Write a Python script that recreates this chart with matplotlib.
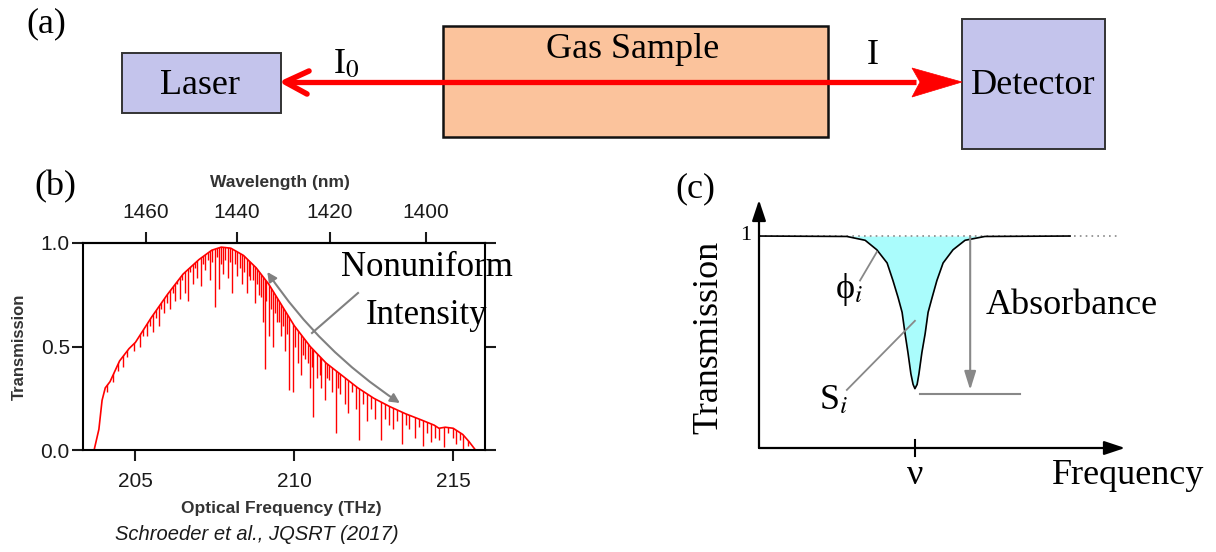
import numpy as np
import matplotlib
matplotlib.use("Agg")
import matplotlib.pyplot as plt
from matplotlib.patches import Rectangle, Polygon, FancyArrowPatch

W, H = 1216, 552
SERIF = ["Liberation Serif", "DejaVu Serif"]
SANS = ["Liberation Sans", "DejaVu Sans"]
plt.rcParams["font.family"] = SANS
plt.rcParams["mathtext.fontset"] = "stix"

# ---- panel (b): transmission spectrum ----
env_freq = [203.35, 203.7, 203.85, 203.95, 204.05, 204.2, 204.35, 204.5, 204.8, 205.0,
            205.5, 206.0, 206.5, 207.0, 207.4, 207.7, 208.0, 208.4, 208.8, 209.2,
            209.6, 210.0, 210.5, 211.0, 211.5, 212.0, 212.5, 213.0, 213.5, 214.0,
            214.4, 214.55, 214.75, 215.0, 215.3, 215.5, 215.7, 216.0]
env_trans = [0.0, 0.0, 0.10, 0.24, 0.30, 0.33, 0.38, 0.43, 0.49, 0.52,
             0.64, 0.75, 0.85, 0.92, 0.965, 0.98, 0.975, 0.94, 0.88, 0.80,
             0.70, 0.60, 0.50, 0.42, 0.36, 0.30, 0.25, 0.21, 0.175, 0.145,
             0.12, 0.105, 0.11, 0.105, 0.075, 0.04, 0.0, 0.0]

# strong absorption lines (centre, minimum transmission)
dip_freq = [204.6, 204.75, 204.95, 205.15, 205.35, 205.55, 205.75, 205.9, 206.1, 206.25,
            206.4, 206.55, 206.65, 206.8, 206.95, 207.05, 207.2, 207.35, 207.5, 207.62,
            207.75, 207.9, 208.05, 208.2, 208.35, 208.5, 208.62, 208.75, 208.88, 209.0,
            209.08, 209.2, 209.32, 209.45, 209.58, 209.7, 209.84, 209.95, 210.1, 210.22,
            210.35, 210.48, 210.6, 210.72, 210.85, 210.95, 211.08, 211.2, 211.32, 211.45,
            211.58, 211.7, 211.82, 211.95, 212.02, 212.15, 212.3, 212.42, 212.55, 212.72,
            212.85, 212.98, 213.1, 213.22, 213.38, 213.5, 213.62, 213.8, 213.92, 214.05,
            214.18, 214.3, 214.42, 214.55, 214.7, 214.85, 214.98, 215.1, 215.22, 215.32, 215.45]
dip_trans = [0.40, 0.45, 0.48, 0.50, 0.55, 0.57, 0.60, 0.66, 0.68, 0.72,
             0.73, 0.76, 0.72, 0.80, 0.83, 0.79, 0.87, 0.82, 0.69, 0.78,
             0.85, 0.83, 0.76, 0.84, 0.80, 0.76, 0.82, 0.71, 0.75, 0.62,
             0.39, 0.55, 0.50, 0.62, 0.55, 0.48, 0.29, 0.28, 0.42, 0.36,
             0.44, 0.30, 0.16, 0.35, 0.30, 0.24, 0.34, 0.28, 0.08, 0.27,
             0.22, 0.18, 0.28, 0.20, 0.05, 0.22, 0.14, 0.20, 0.15, 0.05,
             0.15, 0.12, 0.10, 0.14, 0.03, 0.12, 0.10, 0.06, 0.11, 0.02,
             0.08, 0.04, 0.06, 0.05, 0.015, 0.08, 0.06, 0.03, 0.05, 0.0, 0.02]

# weak lines that fill the band near the peak
weak_freq = [204.1, 204.3, 204.45, 205.25, 205.45, 205.65, 205.82, 206.0, 206.18, 206.32,
             206.48, 206.72, 206.88, 207.12, 207.28, 207.42, 207.56, 207.68, 207.82, 207.98,
             208.12, 208.28, 208.42, 208.56, 208.7, 208.82, 208.95, 209.12, 209.26, 209.38,
             209.52, 209.64, 209.77, 210.03, 210.28, 210.42, 210.55, 210.8, 211.02, 211.38]
weak_trans = [0.28, 0.33, 0.38, 0.55, 0.60, 0.64, 0.68, 0.71, 0.76, 0.80,
              0.82, 0.86, 0.88, 0.90, 0.92, 0.91, 0.93, 0.90, 0.92, 0.91,
              0.90, 0.88, 0.86, 0.84, 0.82, 0.80, 0.74, 0.72, 0.68, 0.66,
              0.62, 0.60, 0.56, 0.50, 0.46, 0.42, 0.40, 0.36, 0.35, 0.30]

freq_ticks = [205, 210, 215]
wl_ticks = [1460, 1440, 1420, 1400]
trans_ticks = [0.0, 0.5, 1.0]

# ---- panel (c): schematic line profile ----
lor_x = [0.0, 2.40, 2.90, 3.22, 3.50, 3.66, 3.80, 3.91, 3.99, 4.07, 4.15, 4.21, 4.26,
         4.32, 4.37, 4.45, 4.54, 4.62, 4.73, 4.86, 5.03, 5.30, 5.63, 6.17, 8.50]
lor_t = [1.0, 0.998, 0.98, 0.935, 0.873, 0.79, 0.71, 0.64, 0.54, 0.45, 0.35, 0.30, 0.28,
         0.30, 0.35, 0.45, 0.54, 0.64, 0.71, 0.79, 0.873, 0.935, 0.98, 0.998, 1.0]
line_center = 4.26
absorb_x = 5.77
peak_floor = 0.255

C_LIGHT = 299792.458


def frac(x0, y0, x1, y1):
    return [x0 / W, 1 - y1 / H, (x1 - x0) / W, (y1 - y0) / H]


fig = plt.figure(figsize=(W / 100, H / 100), dpi=100)

ov = fig.add_axes([0, 0, 1, 1], zorder=5)
ov.set_xlim(0, W)
ov.set_ylim(H, 0)
ov.axis("off")
ov.patch.set_alpha(0)


def serif(x, y, s, size=26, **kw):
    # matplotlib centres on the full line box, so nudge down to the glyph centre
    ov.text(x, y + 3, s, family=SERIF, fontsize=size, ha="center", va="center", **kw)


# ================= (a) =================
serif(46, 21, "(a)")
ov.add_patch(Rectangle((122, 53), 159, 60, fc="#c4c4ec", ec="#333333", lw=1.4))
ov.add_patch(Rectangle((443, 26), 385, 111, fc="#fbc39c", ec="#111111", lw=1.8))
ov.add_patch(Rectangle((962, 19), 143, 130, fc="#c4c4ec", ec="#333333", lw=1.4))
ov.plot([285, 916], [82, 82], color="red", lw=3.8, solid_capstyle="butt")
ov.plot([309, 285, 307], [71, 82, 94], color="red", lw=4.0,
        solid_capstyle="round", solid_joinstyle="round")
ov.add_patch(Polygon([(962, 82), (912, 68), (920, 82), (912, 97)], closed=True,
                     fc="red", ec="red", lw=0.5))
serif(200, 83, "Laser")
serif(633, 47, "Gas Sample")
serif(1033, 83, "Detector")
serif(346, 62, "I$_0$")
serif(873, 53, "I")

# ================= (b) =================
serif(55, 184, "(b)")
axb = fig.add_axes(frac(83, 243, 485, 450))
axb.set_xlim(203.35, 216.0)
axb.set_ylim(0, 1)
axb.plot(env_freq, env_trans, color="red", lw=1.2)
clip = Polygon(np.column_stack([env_freq, env_trans]), closed=True,
               transform=axb.transData)
for fr, tr in ((dip_freq, dip_trans), (weak_freq, weak_trans)):
    lines = axb.vlines(fr, tr, 1.0, colors="red", lw=1.0)
    lines.set_clip_path(clip)

axb.set_xticks(freq_ticks)
axb.set_yticks(trans_ticks)
axb.set_yticklabels(["%.1f" % t for t in trans_ticks])
axb.tick_params(axis="x", direction="out", length=8, width=1.5, labelsize=15,
                pad=8, colors="#1a1a1a")
axb.tick_params(axis="y", direction="out", length=8, width=1.5, labelsize=15,
                pad=1.5, right=True, colors="#1a1a1a")
for sp in axb.spines.values():
    sp.set_linewidth(1.5)

sec = axb.secondary_xaxis("top", functions=(lambda f: C_LIGHT / f,
                                            lambda w: C_LIGHT / w))
sec.set_ticks(wl_ticks)
sec.tick_params(direction="out", length=8, width=1.5, labelsize=15, pad=7,
                colors="#1a1a1a")
sec.spines["top"].set_linewidth(1.5)

ov.text(280, 183, "Wavelength (nm)", fontsize=12.5, fontweight="bold",
        color="#333333", ha="center", va="center")
ov.text(281, 508, "Optical Frequency (THz)", fontsize=12.5, fontweight="bold",
        color="#333333", ha="center", va="center")
ov.text(19, 347, "Transmission", fontsize=12, fontweight="bold", color="#333333",
        ha="center", va="center", rotation=90)
ov.text(257, 535, "Schroeder et al., JQSRT (2017)", fontsize=14.5, style="italic",
        color="#1a1a1a", ha="center", va="center")

axb.add_patch(FancyArrowPatch((209.15, 0.86), (213.32, 0.227), arrowstyle="<|-|>",
                              mutation_scale=14, connectionstyle="arc3,rad=0.1",
                              color="#808080", lw=1.5, shrinkA=0, shrinkB=0,
                              clip_on=False))
ov.plot([358, 312], [293, 333], color="#808080", lw=1.5)
serif(427, 265, "Nonuniform", size=25)
serif(427, 312, "Intensity", size=25)

# ================= (c) =================
serif(695, 186, "(c)")
axc = fig.add_axes(frac(759, 200, 1125, 448))
axc.set_xlim(0, 10)
axc.set_ylim(0, 1.17)
axc.axis("off")
axc.fill_between(lor_x, lor_t, 1.0, color="#aafcfc", lw=0)
axc.plot([0, 9.86], [1, 1], color="#888888", lw=1.2, ls=(0, (1, 2.5)))
axc.plot(lor_x, lor_t, color="black", lw=1.2)

head = "-|>,head_length=0.9,head_width=0.3"
axc.annotate("", xy=(0, 1.17), xytext=(0, 0), annotation_clip=False,
             arrowprops=dict(arrowstyle=head, color="black", lw=1.6,
                             shrinkA=0, shrinkB=0, mutation_scale=14))
axc.annotate("", xy=(10, 0), xytext=(0, 0), annotation_clip=False,
             arrowprops=dict(arrowstyle=head, color="black", lw=1.6,
                             shrinkA=0, shrinkB=0, mutation_scale=14))
axc.plot([line_center, line_center], [-0.04, 0.04], color="black", lw=1.5,
         clip_on=False)

axc.annotate("", xy=(absorb_x, 0.274), xytext=(absorb_x, 1.0), annotation_clip=False,
             arrowprops=dict(arrowstyle="-|>,head_length=0.8,head_width=0.25",
                             color="#888888", lw=1.5, shrinkA=0, shrinkB=0,
                             mutation_scale=14))
axc.plot([4.40, 7.13], [peak_floor, peak_floor], color="#888888", lw=1.5)
axc.plot([2.76, 3.22], [0.79, 0.925], color="#888888", lw=1.3)
axc.plot([2.40, line_center], [0.274, 0.60], color="#888888", lw=1.3)

serif(746, 233, "1", size=16)
ov.text(709, 337, "Transmission", family=SERIF, fontsize=26, ha="center",
        va="center", rotation=90)
serif(849, 286, "\u03d5$_i$")
serif(834, 398, "S$_i$")
serif(1072, 303, "Absorbance")
serif(915, 473, "\u03bd")
serif(1128, 472, "Frequency")

fig.savefig("out.png", dpi=100)
